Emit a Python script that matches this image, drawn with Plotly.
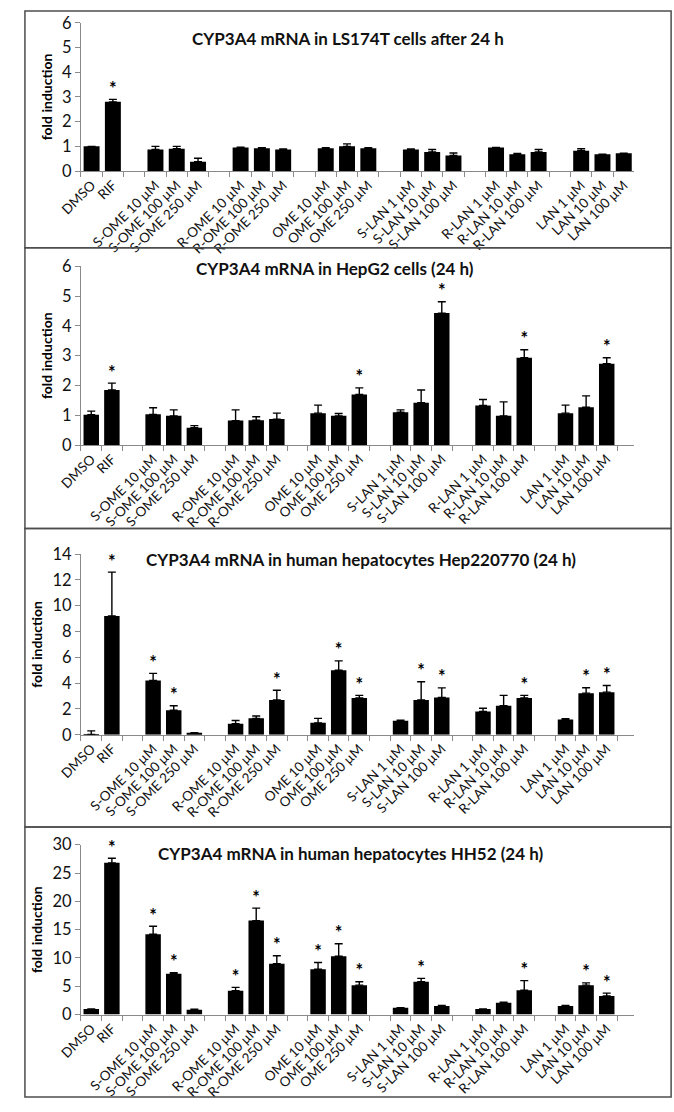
import plotly.graph_objects as go

W, H = 674, 1112

# ---------------- data ----------------
labels = ["DMSO", "RIF", "",
          "S-OME 10 µM", "S-OME 100 µM", "S-OME 250 µM", "",
          "R-OME 10 µM", "R-OME 100 µM", "R-OME 250 µM", "",
          "OME 10 µM", "OME 100 µM", "OME 250 µM", "",
          "S-LAN 1 µM", "S-LAN 10 µM", "S-LAN 100 µM", "",
          "R-LAN 1 µM", "R-LAN 10 µM", "R-LAN 100 µM", "",
          "LAN 1 µM", "LAN 10 µM", "LAN 100 µM"]

titles = ["CYP3A4 mRNA in LS174T cells after 24 h",
          "CYP3A4 mRNA in HepG2 cells (24 h)",
          "CYP3A4 mRNA in human hepatocytes Hep220770 (24 h)",
          "CYP3A4 mRNA in human hepatocytes HH52 (24 h)"]

N = None
ls174t_val = [1.0, 2.8, N, 0.87, 0.90, 0.38, N, 0.95, 0.92, 0.87, N, 0.92, 1.00, 0.92, N,
              0.87, 0.77, 0.63, N, 0.95, 0.68, 0.77, N, 0.82, 0.68, 0.72]
ls174t_err = [0.0, 0.10, N, 0.13, 0.10, 0.14, N, 0.02, 0.03, 0.02, N, 0.03, 0.10, 0.03, N,
              0.02, 0.10, 0.10, N, 0.01, 0.03, 0.10, N, 0.08, 0.0, 0.0]
ls174t_sig = [0, 1, 0, 0, 0, 0, 0, 0, 0, 0, 0, 0, 0, 0, 0, 0, 0, 0, 0, 0, 0, 0, 0, 0, 0, 0]

hepg2_val = [1.02, 1.85, N, 1.03, 0.98, 0.58, N, 0.82, 0.83, 0.87, N, 1.07, 0.98, 1.70, N,
             1.10, 1.42, 4.43, N, 1.33, 0.98, 2.93, N, 1.07, 1.27, 2.73]
hepg2_err = [0.12, 0.23, N, 0.22, 0.20, 0.07, N, 0.36, 0.12, 0.20, N, 0.27, 0.08, 0.22, N,
             0.08, 0.43, 0.38, N, 0.20, 0.47, 0.27, N, 0.27, 0.38, 0.20]
hepg2_sig = [0, 1, 0, 0, 0, 0, 0, 0, 0, 0, 0, 0, 0, 1, 0, 0, 0, 1, 0, 0, 0, 1, 0, 0, 0, 1]

hep220770_val = [0.02, 9.2, N, 4.2, 1.9, 0.15, N, 0.85, 1.27, 2.7, N, 0.92, 5.0, 2.85, N,
                 1.08, 2.7, 2.88, N, 1.8, 2.25, 2.85, N, 1.18, 3.22, 3.3]
hep220770_err = [0.28, 3.4, N, 0.55, 0.35, 0.0, N, 0.25, 0.18, 0.75, N, 0.35, 0.72, 0.2, N,
                 0.05, 1.4, 0.75, N, 0.25, 0.8, 0.2, N, 0.06, 0.42, 0.52]
hep220770_sig = [0, 1, 0, 1, 1, 0, 0, 0, 0, 1, 0, 0, 1, 1, 0, 0, 1, 1, 0, 0, 0, 1, 0, 0, 1, 1]

hh52_val = [1.0, 26.8, N, 14.2, 7.2, 0.85, N, 4.2, 16.6, 9.0, N, 8.0, 10.3, 5.2, N,
            1.2, 5.8, 1.5, N, 1.0, 2.1, 4.3, N, 1.5, 5.2, 3.3]
hh52_err = [0.0, 0.8, N, 1.4, 0.2, 0.1, N, 0.6, 2.2, 1.4, N, 1.2, 2.2, 0.6, N,
            0.0, 0.6, 0.1, N, 0.0, 0.1, 1.7, N, 0.1, 0.4, 0.5]
hh52_sig = [0, 1, 0, 1, 1, 0, 0, 1, 1, 1, 0, 1, 1, 1, 0, 0, 1, 0, 0, 0, 0, 1, 0, 0, 1, 1]

y_max = [6, 6, 14, 30]
y_dtick = [1, 1, 2, 5]

panels = [(ls174t_val, ls174t_err, ls174t_sig),
          (hepg2_val, hepg2_err, hepg2_sig),
          (hep220770_val, hep220770_err, hep220770_sig),
          (hh52_val, hh52_err, hh52_sig)]

# ---------------- layout geometry (pixels) ----------------
box_px = [(1, 242), (242, 528), (528, 832), (832, 1107)]
plot_px = [(13, 164), (261, 443), (554, 738), (850, 1023)]
title_px = [(336, 29), (323, 263), (350, 560), (340, 859)]
x_left, x_right = 60, 633

def px_x(x):
    return x / W

def px_y(y):
    return 1 - y / H

# unique category names (gaps become distinct blank strings)
cat_names = []
k = 0
for lab in labels:
    if lab:
        cat_names.append(lab)
    else:
        k += 1
        cat_names.append(" " * k)

FONT = "Lato"
AX = "#8a8a8a"

fig = go.Figure()
layout = dict(width=W, height=H, margin=dict(l=0, r=0, t=0, b=0),
              paper_bgcolor="white", plot_bgcolor="white", showlegend=False,
              font=dict(family=FONT, color="#111"), bargap=0.25)
shapes = []
annotations = []

for i, (vals, errs, sig) in enumerate(panels):
    sfx = "" if i == 0 else str(i + 1)
    xa, ya = "x" + sfx, "y" + sfx
    xs = [c for c, v in zip(cat_names, vals) if v is not None]
    vs = [v for v in vals if v is not None]
    es = [e for e, v in zip(errs, vals) if v is not None]
    fig.add_trace(go.Bar(
        x=xs, y=vs, xaxis=xa, yaxis=ya, marker=dict(color="black", line=dict(width=0)),
        error_y=dict(type="data", symmetric=False, array=es, arrayminus=[0] * len(es),
                     color="black", thickness=1.4, width=4),
        hoverinfo="x+y"))
    sx = [c for c, v, s in zip(cat_names, vals, sig) if v is not None and s]
    sy = [v + e for v, e, s in zip(vals, errs, sig) if v is not None and s]
    fig.add_trace(go.Scatter(
        x=sx, y=sy, xaxis=xa, yaxis=ya, mode="text", text=["<b>*</b>"] * len(sx),
        textposition="top center", textfont=dict(size=18, color="black", family=FONT),
        cliponaxis=False, hoverinfo="skip"))

    top, bot = plot_px[i]
    layout["xaxis" + sfx] = dict(
        domain=[px_x(x_left), px_x(x_right)], anchor=ya, type="category",
        categoryorder="array", categoryarray=cat_names,
        showline=True, linecolor=AX, linewidth=1, ticks="outside", tickson="boundaries",
        ticklen=5, tickcolor=AX, tickangle=-45, showgrid=False, zeroline=False,
        tickfont=dict(size=13.5, family=FONT, color="#111"), fixedrange=True)
    layout["yaxis" + sfx] = dict(
        domain=[px_y(bot), px_y(top)], anchor=xa, range=[0, y_max[i]], dtick=y_dtick[i],
        showline=True, linecolor=AX, linewidth=1, ticks="outside", ticklen=5, tickcolor=AX,
        showgrid=False, zeroline=False, tickfont=dict(size=16.5, family=FONT, color="#111"),
        title=dict(text="<b>fold induction</b>", font=dict(size=14, family=FONT, color="black"),
                   standoff=6), fixedrange=True)

    b0, b1 = box_px[i]
    shapes.append(dict(type="rect", xref="paper", yref="paper",
                       x0=px_x(2), x1=px_x(671), y0=px_y(b1), y1=px_y(b0),
                       line=dict(color="#4d4d4d", width=1.5), fillcolor="rgba(0,0,0,0)"))
    tx, ty = title_px[i]
    annotations.append(dict(text="<b>" + titles[i] + "</b>", xref="paper", yref="paper",
                            x=px_x(tx), y=px_y(ty), xanchor="center", yanchor="middle",
                            showarrow=False, font=dict(size=17, family=FONT, color="#111")))

layout["shapes"] = shapes
layout["annotations"] = annotations
fig.update_layout(**layout)
fig.write_html("out.html", config={"displayModeBar": False},
               post_script="document.body.style.margin='0px';document.body.style.overflow='hidden';")
